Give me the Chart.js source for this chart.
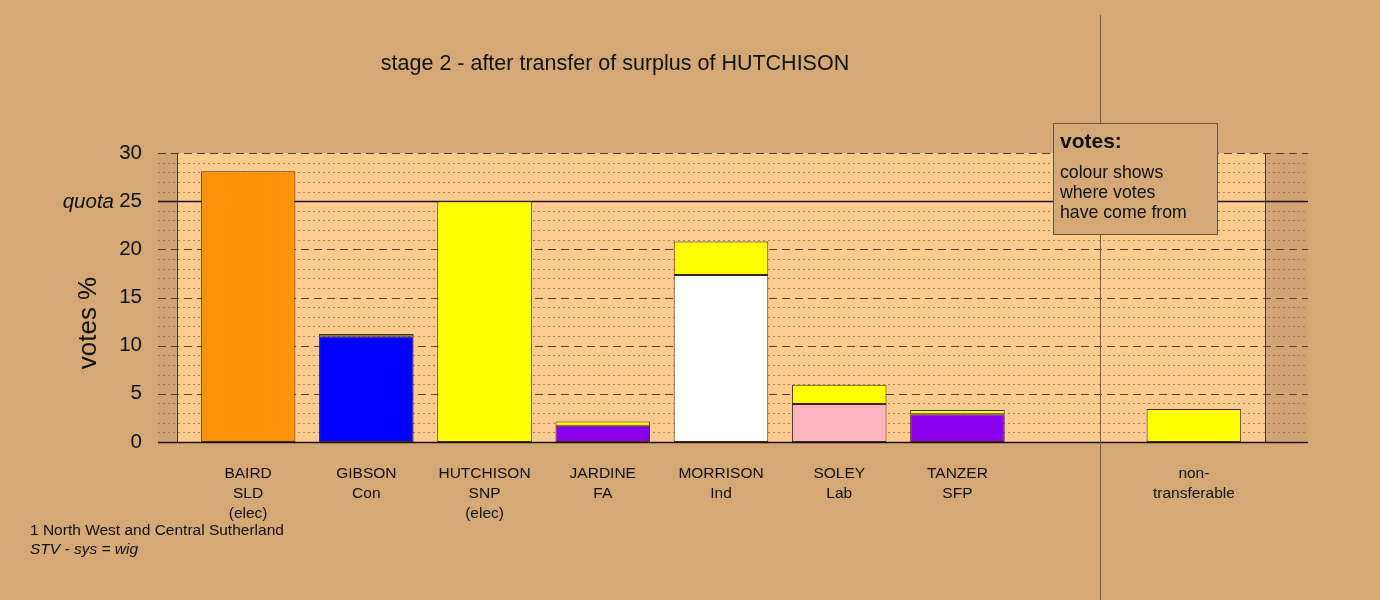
<!DOCTYPE html>
<html>
<head>
<meta charset="utf-8">
<script src="https://cdn.jsdelivr.net/npm/chart.js@4/dist/chart.umd.min.js"></script>
<style>
  html, body { margin: 0; padding: 0; background: #D4A976; }
  #wrap { width: 1380px; height: 600px; }
</style>
</head>
<body>
<div id="wrap"><canvas id="c" width="1380" height="600"></canvas></div>
<script>
// ---- data ----
const tickLabels = [
  ['BAIRD', 'SLD', '(elec)'],
  ['GIBSON', 'Con'],
  ['HUTCHISON', 'SNP', '(elec)'],
  ['JARDINE', 'FA'],
  ['MORRISON', 'Ind'],
  ['SOLEY', 'Lab'],
  ['TANZER', 'SFP'],
  [''],
  ['non-', 'transferable']
];
const ownVotes      = [28.1, 10.97, 25.0, 1.69, 17.34, 3.94, 2.87, null, null];
const fromHutchison = [null, 0.24, null, 0.44, 3.48, 2.01, 0.45, null, 3.43];
const ownColours    = ['#FF9408', '#0000FF', '#FFFF00', '#8800EE', '#FFFFFF', '#FFB5C0', '#8800EE', '#FFFFFF', '#FFFF00'];
const transferColour = '#FFFF00';
const yTicks = [0, 5, 10, 15, 20, 25, 30];
const quota = 25;
const titleText = 'stage 2 - after transfer of surplus of HUTCHISON';
const footLines = ['1 North West and Central Sutherland', 'STV - sys = wig'];
const legendLines = ['colour shows', 'where votes', 'have come from'];

const FONT = '"Liberation Sans", Arial, sans-serif';
const BG = '#D4A976';
const PLOT = '#FFCC90';

const decor = {
  id: 'decor',
  beforeDraw(chart) {
    const ctx = chart.ctx;
    ctx.save();
    ctx.fillStyle = BG;
    ctx.fillRect(0, 0, chart.width, chart.height);
    ctx.restore();
  },
  beforeDatasetsDraw(chart) {
    const ctx = chart.ctx;
    const y = chart.scales.y;
    const a = chart.chartArea;
    const pl = a.left - 12, pr = a.right + 12;
    const gl = a.left - 31, gr = a.right + 55;
    const top = y.getPixelForValue(30), bot = y.getPixelForValue(0);
    ctx.save();
    ctx.fillStyle = 'rgba(150,100,50,0.05)';
    ctx.fillRect(gl, top, pl - gl, bot - top);
    ctx.fillRect(pr, top, gr - pr, bot - top);
    ctx.fillStyle = PLOT;
    ctx.fillRect(pl, top, pr - pl, bot - top);
    // minor dotted
    ctx.lineWidth = 1;
    for (let v = 1; v < 30; v++) {
      if (v % 5 === 0) continue;
      const py = Math.round(y.getPixelForValue(v)) + 0.5;
      ctx.strokeStyle = 'rgba(140,100,60,0.7)';
      ctx.setLineDash([2, 3]);
      ctx.beginPath(); ctx.moveTo(gl, py); ctx.lineTo(gr, py); ctx.stroke();
    }
    // major dashed
    for (const v of yTicks) {
      const py = Math.round(y.getPixelForValue(v)) + 0.5;
      if (v === 0 || v === quota) continue;
      ctx.strokeStyle = '#5a4028';
      ctx.setLineDash([8, 5]);
      ctx.beginPath(); ctx.moveTo(gl, py); ctx.lineTo(gr, py); ctx.stroke();
    }
    ctx.setLineDash([]);
    // quota solid line
    let qy = Math.round(y.getPixelForValue(quota)) + 0.5;
    ctx.strokeStyle = '#1a1008';
    ctx.lineWidth = 1.5;
    ctx.beginPath(); ctx.moveTo(gl, qy); ctx.lineTo(gr, qy); ctx.stroke();
    // plot verticals
    ctx.lineWidth = 1;
    ctx.strokeStyle = '#4a3520';
    ctx.beginPath();
    ctx.moveTo(pl + 0.5, top); ctx.lineTo(pl + 0.5, bot);
    ctx.moveTo(pr + 0.5, top); ctx.lineTo(pr + 0.5, bot);
    ctx.stroke();
    // baseline
    const by = Math.round(bot) + 0.5;
    ctx.strokeStyle = '#1a1008';
    ctx.lineWidth = 1.5;
    ctx.beginPath(); ctx.moveTo(gl, by); ctx.lineTo(gr, by); ctx.stroke();
    ctx.restore();
  },
  afterDraw(chart) {
    const ctx = chart.ctx;
    const y = chart.scales.y;
    ctx.save();
    // divider line
    ctx.strokeStyle = '#6e5a45';
    ctx.lineWidth = 1;
    ctx.beginPath(); ctx.moveTo(1100.5, 15); ctx.lineTo(1100.5, 600); ctx.stroke();
    // title
    ctx.fillStyle = '#111';
    ctx.font = '21.5px ' + FONT;
    ctx.textAlign = 'center';
    ctx.textBaseline = 'middle';
    ctx.fillText(titleText, 615, 64);
    // quota label
    ctx.font = 'italic 20.5px ' + FONT;
    ctx.textAlign = 'right';
    ctx.fillText('quota', 114, y.getPixelForValue(quota) + 1);
    // y title
    ctx.save();
    ctx.translate(89, 323);
    ctx.rotate(-Math.PI / 2);
    ctx.font = '26px ' + FONT;
    ctx.textAlign = 'center';
    ctx.fillText('votes %', 0, 0);
    ctx.restore();
    // footer
    ctx.textAlign = 'left';
    ctx.font = '15.5px ' + FONT;
    ctx.fillText(footLines[0], 30, 531);
    ctx.font = 'italic 15.5px ' + FONT;
    ctx.fillText(footLines[1], 30, 550);
    // legend box
    ctx.fillStyle = BG;
    ctx.fillRect(1053, 123, 165, 112);
    ctx.strokeStyle = '#6b5540';
    ctx.lineWidth = 1;
    ctx.strokeRect(1053.5, 123.5, 164, 111);
    ctx.fillStyle = '#111';
    ctx.font = 'bold 21px ' + FONT;
    ctx.fillText('votes:', 1060, 142);
    ctx.font = '17.7px ' + FONT;
    legendLines.forEach((t, i) => ctx.fillText(t, 1060, 173 + i * 20));
    ctx.restore();
  }
};

new Chart(document.getElementById('c'), {
  type: 'bar',
  data: {
    labels: tickLabels,
    datasets: [
      {
        label: 'own',
        data: ownVotes,
        backgroundColor: ownColours,
        borderColor: '#3a2a1a',
        borderWidth: 1,
        borderSkipped: false,
        categoryPercentage: 0.8,
        barPercentage: 1.0
      },
      {
        label: 'from HUTCHISON',
        data: fromHutchison,
        backgroundColor: transferColour,
        borderColor: '#3a2a1a',
        borderWidth: 1,
        borderSkipped: false,
        categoryPercentage: 0.8,
        barPercentage: 1.0
      }
    ]
  },
  options: {
    responsive: false,
    animation: false,
    events: [],
    layout: { padding: { top: 153, right: 127, left: 0, bottom: 0 } },
    plugins: { legend: { display: false }, tooltip: { enabled: false }, title: { display: false } },
    scales: {
      x: {
        stacked: true,
        offset: true,
        grid: { display: false, drawTicks: false },
        border: { display: false },
        ticks: {
          color: '#111',
          font: { family: FONT, size: 15.5, lineHeight: 1.29 },
          padding: 22,
          maxRotation: 0,
          autoSkip: false
        },
        afterFit(s) { s.height = 158; }
      },
      y: {
        stacked: true,
        min: 0,
        max: 30,
        grid: { display: false, drawTicks: false },
        border: { display: false },
        ticks: {
          stepSize: 5,
          color: '#111',
          font: { family: FONT, size: 20.5 },
          padding: 47
        },
        afterFit(s) { s.width = 189; }
      }
    }
  },
  plugins: [decor]
});
</script>
</body>
</html>
